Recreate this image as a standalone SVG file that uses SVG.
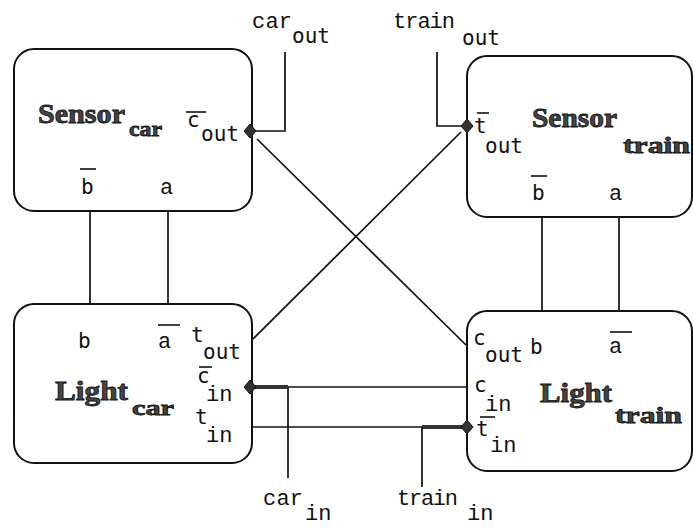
<svg xmlns="http://www.w3.org/2000/svg" width="694" height="528" viewBox="0 0 694 528">
<style>
.box{fill:#fff;stroke:#111;stroke-width:2}
.wire{fill:none;stroke:#111;stroke-width:1.7}
.thick{fill:none;stroke:#333;stroke-width:4}
.dot{fill:#333;stroke:#111;stroke-width:1}
.title{font-family:"Liberation Serif",serif;font-weight:bold;fill:#444;stroke:#111;stroke-width:0.8}
.mono{font-family:"Liberation Mono",monospace;font-size:22px;fill:#111}
.sans{font-family:"DejaVu Sans Mono",monospace;font-size:21px;fill:#111}
.bar{stroke:#111;stroke-width:1.6}
</style>
<g id="sensor_car">
  <rect class="box" x="14" y="49" width="238" height="162" rx="20"/>
  <text class="title" x="38" y="123" font-size="28" textLength="87" lengthAdjust="spacingAndGlyphs">Sensor</text>
  <text class="title" x="129" y="136" font-size="22" textLength="33" lengthAdjust="spacingAndGlyphs">car</text>
  <text class="sans" x="187" y="127">c</text>
  <line class="bar" x1="186" y1="112" x2="206" y2="112"/>
  <text class="sans" x="201" y="141">out</text>
  <text class="sans" x="81" y="194">b</text>
  <line class="bar" x1="80" y1="169" x2="96" y2="169"/>
  <text class="mono" x="160" y="194">a</text>
</g>
<g id="sensor_train">
  <rect class="box" x="467" y="56" width="225" height="161" rx="20"/>
  <text class="sans" x="474" y="133">t</text>
  <line class="bar" x1="477" y1="113" x2="489" y2="113"/>
  <text class="sans" x="485" y="153">out</text>
  <text class="title" x="532" y="127" font-size="28" textLength="85" lengthAdjust="spacingAndGlyphs">Sensor</text>
  <text class="title" x="623" y="153" font-size="24" textLength="67" lengthAdjust="spacingAndGlyphs">train</text>
  <text class="sans" x="532" y="200">b</text>
  <line class="bar" x1="531" y1="176" x2="547" y2="176"/>
  <text class="mono" x="609" y="200">a</text>
</g>
<g id="light_car">
  <rect class="box" x="14" y="304" width="238" height="159" rx="20"/>
  <text class="sans" x="78" y="348">b</text>
  <text class="mono" x="158" y="348">a</text>
  <line class="bar" x1="158" y1="325" x2="180" y2="325"/>
  <text class="sans" x="191" y="342">t</text>
  <text class="sans" x="203" y="359">out</text>
  <text class="sans" x="197" y="383">c</text>
  <line class="bar" x1="199" y1="367" x2="212" y2="367"/>
  <text class="mono" x="206" y="401">in</text>
  <text class="title" x="55" y="400" font-size="28" textLength="73" lengthAdjust="spacingAndGlyphs">Light</text>
  <text class="title" x="132" y="415" font-size="22" textLength="42" lengthAdjust="spacingAndGlyphs">car</text>
  <text class="sans" x="195" y="424">t</text>
  <text class="mono" x="206" y="442">in</text>
</g>
<g id="light_train">
  <rect class="box" x="467" y="311" width="225" height="160" rx="20"/>
  <text class="sans" x="473" y="345">c</text>
  <text class="sans" x="485" y="362">out</text>
  <text class="sans" x="530" y="354">b</text>
  <text class="mono" x="609" y="353">a</text>
  <line class="bar" x1="610" y1="332" x2="632" y2="332"/>
  <text class="sans" x="474" y="392">c</text>
  <text class="mono" x="485" y="411">in</text>
  <text class="title" x="540" y="402" font-size="28" textLength="72" lengthAdjust="spacingAndGlyphs">Light</text>
  <text class="title" x="615" y="423" font-size="24" textLength="67" lengthAdjust="spacingAndGlyphs">train</text>
  <line class="bar" x1="480" y1="417" x2="495" y2="417"/>
  <text class="sans" x="476" y="436">t</text>
  <text class="mono" x="490" y="452">in</text>
</g>
<g id="labels">
  <text class="mono" x="252" y="28" textLength="40">car</text>
  <text class="sans" x="292" y="43">out</text>
  <text class="mono" x="393" y="28" textLength="62">train</text>
  <text class="sans" x="462" y="45">out</text>
  <text class="mono" x="263" y="505" textLength="40">car</text>
  <text class="mono" x="305" y="520">in</text>
  <text class="mono" x="397" y="505" textLength="61">train</text>
  <text class="mono" x="467" y="520">in</text>
</g>
<g id="connectors">
  <line class="wire" x1="90" y1="212" x2="90" y2="303"/>
  <line class="wire" x1="168" y1="212" x2="168" y2="303"/>
  <line class="wire" x1="542" y1="218" x2="542" y2="310"/>
  <line class="wire" x1="619" y1="218" x2="619" y2="310"/>
  <polyline class="wire" points="250,131 285,131 285,52"/>
  <polyline class="wire" points="467,126 437,126 437,52"/>
  <line class="wire" x1="257" y1="139" x2="466" y2="345"/>
  <line class="wire" x1="253" y1="339" x2="461" y2="132"/>
  <line class="wire" x1="250" y1="387" x2="466" y2="387"/>
  <line class="wire" x1="253" y1="427" x2="467" y2="427"/>
  <line class="thick" x1="252" y1="387" x2="288" y2="387"/>
  <line class="thick" x1="422" y1="427" x2="465" y2="427"/>
  <line class="wire" x1="288" y1="387" x2="288" y2="478"/>
  <line class="wire" x1="422" y1="427" x2="422" y2="487"/>
  <polygon class="dot" points="250,124 256,131 250,138 244,131"/>
  <polygon class="dot" points="467,119 473,126 467,133 461,126"/>
  <polygon class="dot" points="250,380 256,387 250,394 244,387"/>
  <polygon class="dot" points="467,420 473,427 467,434 461,427"/>
</g>
</svg>
